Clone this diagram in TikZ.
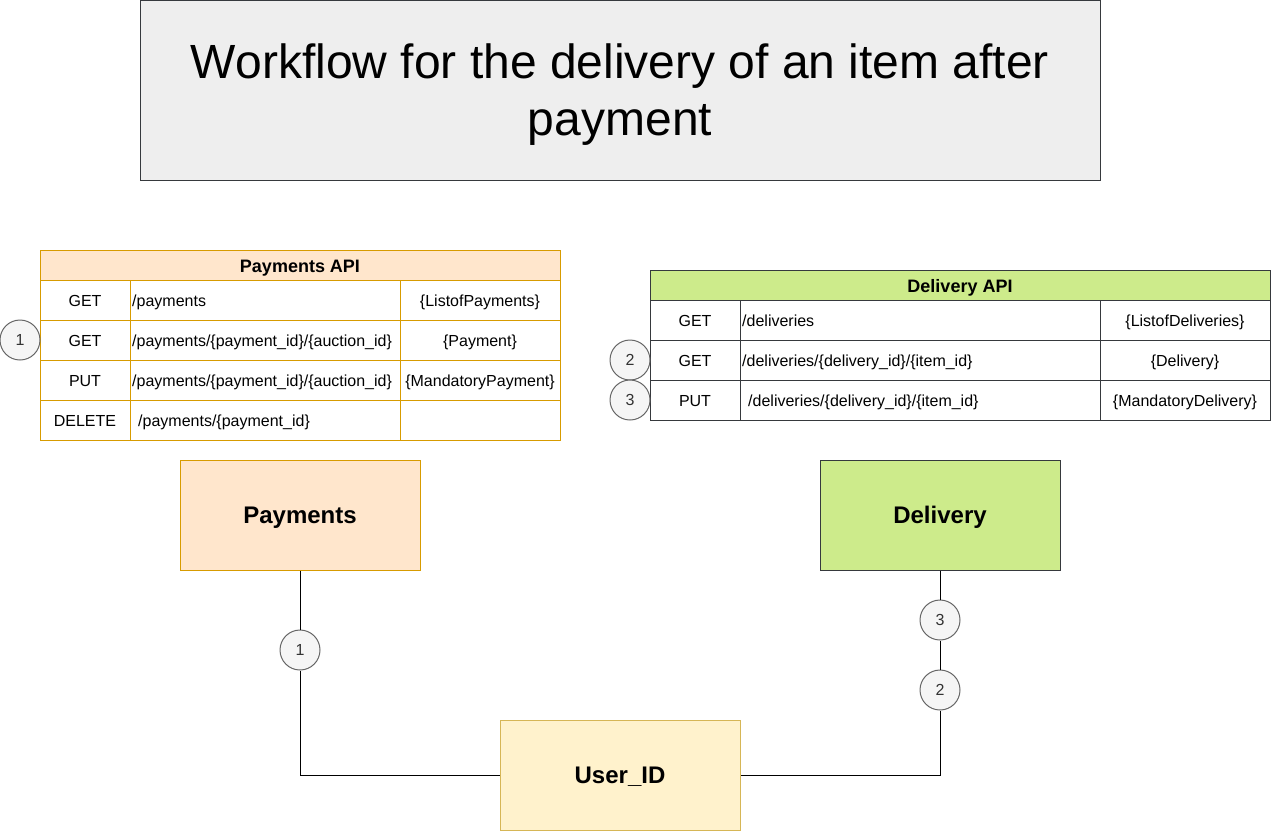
\documentclass[tikz,border=0pt]{standalone}
\usepackage{fontspec}
\setmainfont{Liberation Sans}
\definecolor{cdark}{HTML}{36393D}
\definecolor{ctitle}{HTML}{EEEEEE}
\definecolor{corange}{HTML}{D79B00}
\definecolor{cpeach}{HTML}{FFE6CC}
\definecolor{cgreen}{HTML}{CDEB8B}
\definecolor{cyellow}{HTML}{FFF2CC}
\definecolor{cyelline}{HTML}{D6B656}
\definecolor{cgrayline}{HTML}{666666}
\definecolor{cgrayfill}{HTML}{F5F5F5}
\definecolor{cgraytext}{HTML}{333333}
\begin{document}
\begin{tikzpicture}[x=1pt,y=-1pt,
  bigbox/.style={draw, line width=1pt, minimum width=240pt, minimum height=110pt, inner sep=0pt,
    text height=17.2pt, text depth=0pt, font=\fontsize{24}{28}\selectfont\bfseries},
  num/.style={circle, draw=cgrayline, fill=cgrayfill, line width=1pt, minimum size=40pt, inner sep=0pt,
    text height=11.5pt, text depth=0pt, text=cgraytext, font=\fontsize{16}{19}\selectfont},
  cell/.style={inner sep=0pt, text height=11.5pt, text depth=0pt, font=\fontsize{16}{19}\selectfont},
  hcell/.style={inner sep=0pt, text height=12.9pt, text depth=0pt, font=\fontsize{18}{21}\selectfont\bfseries},
  ttext/.style={inner sep=0pt, anchor=base, font=\fontsize{48}{57}\selectfont},
  conn/.style={draw=black, line width=1pt}
]
\useasboundingbox (0,0) rectangle (1274,831);

% title
\node[draw=cdark, fill=ctitle, line width=1pt, minimum width=960pt, minimum height=180pt,
  inner sep=0pt] (title) at (620,90) {};
\node[ttext] (title1) at (620,78) {Workflow for the delivery of an item after};
\node[ttext] (title2) at (620,135) {payment};

% Payments API table
\fill[cpeach] (40,250) rectangle (560,280);
\draw[corange, line width=1pt] (40,250) rectangle (560,440);
\foreach \yy in {280,320,360,400} \draw[corange, line width=1pt] (40,\yy) -- (560,\yy);
\foreach \xx in {130,400} \draw[corange, line width=1pt] (\xx,280) -- (\xx,440);
\node[hcell] (payhead) at (300,266) {Payments API};
\node[cell] (pm1) at (85,301) {GET};
\node[cell] (pm2) at (85,341) {GET};
\node[cell] (pm3) at (85,381) {PUT};
\node[cell] (pm4) at (85,421) {DELETE};
\node[cell, anchor=west] (pp1) at (132,301) {/payments};
\node[cell, anchor=west] (pp2) at (132,341) {/payments/\{payment\_id\}/\{auction\_id\}};
\node[cell, anchor=west] (pp3) at (132,381) {/payments/\{payment\_id\}/\{auction\_id\}};
\node[cell, anchor=west] (pp4) at (138,421) {/payments/\{payment\_id\}};
\node[cell] (pr1) at (480,301) {\{ListofPayments\}};
\node[cell] (pr2) at (480,341) {\{Payment\}};
\node[cell] (pr3) at (480,381) {\{MandatoryPayment\}};

% Delivery API table
\fill[cgreen] (650,270) rectangle (1270,300);
\draw[cdark, line width=1pt] (650,270) rectangle (1270,420);
\foreach \yy in {300,340,380} \draw[cdark, line width=1pt] (650,\yy) -- (1270,\yy);
\foreach \xx in {740,1100} \draw[cdark, line width=1pt] (\xx,300) -- (\xx,420);
\node[hcell] (delhead) at (960,286) {Delivery API};
\node[cell] (dm1) at (695,321) {GET};
\node[cell] (dm2) at (695,361) {GET};
\node[cell] (dm3) at (695,401) {PUT};
\node[cell, anchor=west] (dp1) at (742,321) {/deliveries};
\node[cell, anchor=west] (dp2) at (742,361) {/deliveries/\{delivery\_id\}/\{item\_id\}};
\node[cell, anchor=west] (dp3) at (748,401) {/deliveries/\{delivery\_id\}/\{item\_id\}};
\node[cell] (dr1) at (1185,321) {\{ListofDeliveries\}};
\node[cell] (dr2) at (1185,361) {\{Delivery\}};
\node[cell] (dr3) at (1185,401) {\{MandatoryDelivery\}};

% table markers
\node[num] (t1) at (20,340) {1};
\node[num] (t2) at (630,360) {2};
\node[num] (t3) at (630,400) {3};

% main boxes
\node[bigbox, draw=corange, fill=cpeach] (pay) at (300,515) {Payments};
\node[bigbox, draw=cdark, fill=cgreen] (del) at (940,515) {Delivery};
\node[bigbox, draw=cyelline, fill=cyellow] (user) at (620,775) {User\_ID};

% connector markers
\node[num] (c1) at (300,650) {1};
\node[num] (c3) at (940,620) {3};
\node[num] (c2) at (940,690) {2};

% connectors
\draw[conn] (pay.south) -- (c1.north);
\draw[conn] (c1.south) |- (user.west);
\draw[conn] (del.south) -- (c3.north);
\draw[conn] (c3.south) -- (c2.north);
\draw[conn] (c2.south) |- (user.east);
\end{tikzpicture}
\end{document}
